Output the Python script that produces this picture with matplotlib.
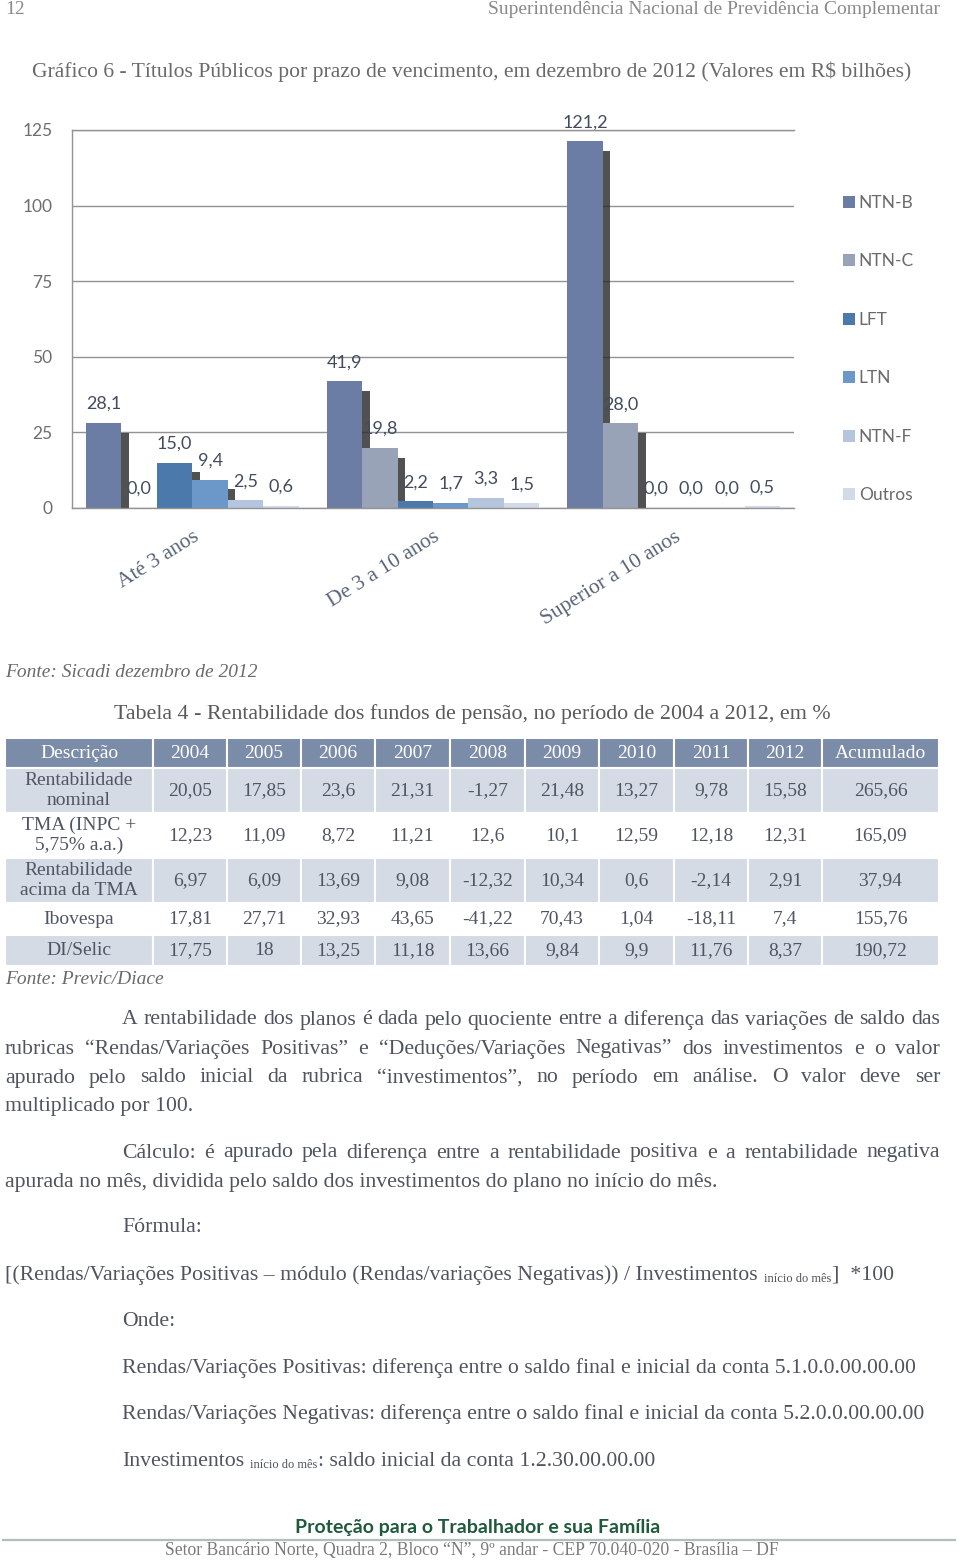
import matplotlib
matplotlib.use('Agg')
import matplotlib.pyplot as plt
from matplotlib import patheffects
import numpy as np

W, H = 960, 1561

# chart data (R$ bilhões)
categories = ['Até 3 anos', 'De 3 a 10 anos', 'Superior a 10 anos']
series = ['NTN-B', 'NTN-C', 'LFT', 'LTN', 'NTN-F', 'Outros']
ntn_b = [28.1, 41.9, 121.2]
ntn_c = [0.0, 19.8, 28.0]
lft = [15.0, 2.2, 0.0]
ltn = [9.4, 1.7, 0.0]
ntn_f = [2.5, 3.3, 0.0]
outros = [0.6, 1.5, 0.5]
yticks = [0, 25, 50, 75, 100, 125]

# table data
table_header = ['Descrição', '2004', '2005', '2006', '2007', '2008', '2009',
                '2010', '2011', '2012', 'Acumulado']
row_labels = ['Rentabilidade\nnominal', 'TMA (INPC +\n5,75% a.a.)',
              'Rentabilidade\nacima da TMA', 'Ibovespa', 'DI/Selic']
rent_nominal = ['20,05', '17,85', '23,6', '21,31', '-1,27', '21,48', '13,27', '9,78', '15,58', '265,66']
tma = ['12,23', '11,09', '8,72', '11,21', '12,6', '10,1', '12,59', '12,18', '12,31', '165,09']
rent_acima = ['6,97', '6,09', '13,69', '9,08', '-12,32', '10,34', '0,6', '-2,14', '2,91', '37,94']
ibovespa = ['17,81', '27,71', '32,93', '43,65', '-41,22', '70,43', '1,04', '-18,11', '7,4', '155,76']
di_selic = ['17,75', '18', '13,25', '11,18', '13,66', '9,84', '9,9', '11,76', '8,37', '190,72']

bar_colors = ['#6c7da5', '#98a3b7', '#4b79ab', '#6b98c9', '#b4c5dd', '#d2dae9']
SERIF = 'Liberation Serif'
SANS = 'Lato'
TXT = '#4f545e'


def fx(x):
    return x / W


def fy(y):
    return 1 - y / H


fig = plt.figure(figsize=(W / 100, H / 100), dpi=100)
renderer = fig.canvas.get_renderer()


def ptext(x, y, s, **kw):
    kw.setdefault('family', SERIF)
    kw.setdefault('color', TXT)
    kw.setdefault('va', 'center')
    return fig.text(fx(x), fy(y), s, **kw)


def justify(y, line, x0, x1, **kw):
    words = line.split()
    arts = [ptext(0, y, w, **kw) for w in words]
    widths = [a.get_window_extent(renderer).width for a in arts]
    gap = (x1 - x0 - sum(widths)) / (len(words) - 1)
    x = x0
    for a, w in zip(arts, widths):
        a.set_x(fx(x))
        x += w + gap


def inline(y, parts, x0):
    # parts: (text, size, dy, gap_after)
    x = x0
    for s, size, dy, gap in parts:
        a = ptext(x, y + dy, s, fontsize=size)
        x += a.get_window_extent(renderer).width + gap


# ---- page header ----
ptext(5, 9, '12', fontsize=14, color='#8a8a8a')
ptext(940, 9, 'Superintendência Nacional de Previdência Complementar',
      fontsize=14, color='#8a8a8a', ha='right')
ptext(472, 72, 'Gráfico 6 - Títulos Públicos por prazo de vencimento, em dezembro de 2012 '
      '(Valores em R$ bilhões)', fontsize=15.6, color='#6a6a6a', ha='center')

# ---- bar chart ----
ax = fig.add_axes([fx(72), fy(508), fx(794) - fx(72), fy(130) - fy(508)])
x = np.arange(len(categories))
w = 0.1475
values = [ntn_b, ntn_c, lft, ltn, ntn_f, outros]
shadow = [patheffects.SimplePatchShadow(offset=(5.5, -7), shadow_rgbFace='#262626', alpha=0.8),
          patheffects.Normal()]
for i, (name, vals) in enumerate(zip(series, values)):
    pos = x + (i - 2.5) * w
    bars = ax.bar(pos, vals, width=w, color=bar_colors[i], label=name, zorder=2)
    for b in bars:
        b.set_path_effects(shadow)
    for p, v in zip(pos, vals):
        ax.annotate(f'{v:.1f}'.replace('.', ','), (p, v), xytext=(0, 8),
                    textcoords='offset points', ha='center', va='bottom',
                    fontsize=13, family=SANS, color='#424c5e', zorder=4,
                    annotation_clip=False)

ax.set_xlim(-0.5, 2.5)
ax.set_ylim(0, 125)
ax.set_yticks(yticks)
ax.yaxis.grid(True, color='#939393', linewidth=1.0, zorder=0)
ax.set_axisbelow(True)
for side in ['top', 'bottom', 'left']:
    ax.spines[side].set_color('#939393')
    ax.spines[side].set_linewidth(1.0)
ax.spines['right'].set_visible(False)
ax.tick_params(axis='y', length=0, pad=14, labelsize=12.5, labelcolor='#6e6e6e')
for t in ax.get_yticklabels():
    t.set_family(SANS)
ax.set_xticks(x)
ax.set_xticklabels(categories, rotation=32, ha='right', rotation_mode='anchor',
                   family=SERIF, fontsize=15.5, color='#5a6478')
ax.tick_params(axis='x', length=0, pad=14)

leg = ax.legend(loc='center left', bbox_to_anchor=(fx(843), fy(349)), bbox_transform=fig.transFigure,
                frameon=False, borderpad=0, borderaxespad=0, handlelength=0.7, handleheight=0.7,
                handletextpad=0.2, labelspacing=2.45, prop={'family': SANS, 'size': 12.5},
                labelcolor='#6a6a6a')
for hd in leg.legend_handles:
    hd.set_path_effects([])

ptext(5, 673, 'Fonte: Sicadi dezembro de 2012', fontsize=14, style='italic', color='#6a6a6a')

# ---- table ----
ptext(472, 714, 'Tabela 4 - Rentabilidade dos fundos de pensão, no período de 2004 a 2012, em %',
      fontsize=15.85, color='#5a5a5a', ha='center')

col_px = [148, 74, 74, 74, 75, 75, 74, 75, 74, 74, 117]
row_px = [30, 45, 45, 45, 32, 31]
data_rows = [rent_nominal, tma, rent_acima, ibovespa, di_selic]
cell_text = [[lab] + vals for lab, vals in zip(row_labels, data_rows)]

axt = fig.add_axes([fx(5), fy(966), fx(939) - fx(5), fy(738) - fy(966)])
axt.axis('off')
tbl = axt.table(cellText=cell_text, colLabels=table_header,
                colWidths=[c / sum(col_px) for c in col_px],
                cellLoc='center', bbox=[0, 0, 1, 1])
tbl.auto_set_font_size(False)
tbl.set_fontsize(14)
for (r, c), cell in tbl.get_celld().items():
    cell.set_height(row_px[r])
    cell.set_edgecolor('white')
    cell.set_linewidth(1.5)
    t = cell.get_text()
    t.set_family(SERIF)
    t.set_linespacing(1.2)
    if r == 0:
        cell.set_facecolor('#7b8ca8')
        t.set_color('white')
    else:
        cell.set_facecolor('#d5dbe4' if r in (1, 3, 5) else 'white')
        t.set_color('#4f5564')

ptext(5, 979, 'Fonte: Previc/Diace', fontsize=14, style='italic', color='#6a6a6a')

# ---- body text ----
BODY = 15.7
justify(1020, 'A rentabilidade dos planos é dada pelo quociente entre a diferença das variações de saldo das',
        122, 940, fontsize=BODY)
justify(1049, 'rubricas “Rendas/Variações Positivas” e “Deduções/Variações Negativas” dos investimentos e o valor',
        5, 940, fontsize=BODY)
justify(1078, 'apurado pelo saldo inicial da rubrica “investimentos”, no período em análise. O valor deve ser',
        5, 940, fontsize=BODY)
ptext(5, 1106, 'multiplicado por 100.', fontsize=BODY)

justify(1153, 'Cálculo: é apurado pela diferença entre a rentabilidade positiva e a rentabilidade negativa',
        122, 940, fontsize=BODY)
ptext(5, 1182, 'apurada no mês, dividida pelo saldo dos investimentos do plano no início do mês.', fontsize=BODY)

ptext(122, 1228, 'Fórmula:', fontsize=BODY)
inline(1275, [('[(Rendas/Variações Positivas – módulo (Rendas/variações Negativas)) / Investimentos',
               BODY, 0, 6),
              ('início do mês', 9, 4, 1),
              (']  *100', BODY, 0, 0)], 5)
ptext(122, 1321, 'Onde:', fontsize=BODY)
ptext(122, 1368, 'Rendas/Variações Positivas: diferença entre o saldo final e inicial da conta 5.1.0.0.00.00.00',
      fontsize=BODY)
ptext(122, 1414, 'Rendas/Variações Negativas: diferença entre o saldo final e inicial da conta 5.2.0.0.00.00.00',
      fontsize=BODY)
inline(1461, [('Investimentos', BODY, 0, 6),
              ('início do mês', 9, 4, 0),
              (': saldo inicial da conta 1.2.30.00.00.00', BODY, 0, 0)], 122)

# ---- footer ----
ptext(478, 1527, 'Proteção para o Trabalhador e sua Família', family=SANS, weight='bold',
      fontsize=14, color='#1f5a3c', ha='center')
fig.add_artist(plt.Line2D([fx(3), fx(955)], [fy(1540), fy(1540)], color='#b4bcbc', linewidth=1.6))
ptext(472, 1551, 'Setor Bancário Norte, Quadra 2, Bloco “N”, 9º andar - CEP 70.040-020 - Brasília – DF',
      fontsize=12.7, color='#7a7a7a', ha='center')

fig.savefig('out.png', dpi=100)
